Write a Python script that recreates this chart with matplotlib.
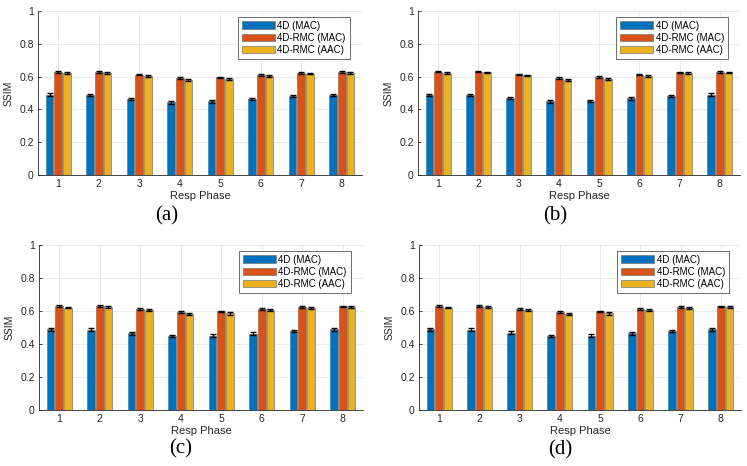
import matplotlib
matplotlib.use('Agg')
import matplotlib.pyplot as plt
import numpy as np

plt.rcParams['font.family'] = ['Liberation Sans', 'DejaVu Sans']

phases = [1, 2, 3, 4, 5, 6, 7, 8]
series_names = ['4D (MAC)', '4D-RMC (MAC)', '4D-RMC (AAC)']
colors = ['#0072BD', '#D95319', '#EDB120']
panel_labels = ['(a)', '(b)', '(c)', '(d)']

# SSIM means per panel: [4D (MAC), 4D-RMC (MAC), 4D-RMC (AAC)]
ssim_a = [[0.490, 0.487, 0.465, 0.443, 0.450, 0.463, 0.483, 0.488],
          [0.628, 0.628, 0.612, 0.590, 0.595, 0.610, 0.622, 0.627],
          [0.620, 0.622, 0.605, 0.580, 0.585, 0.603, 0.618, 0.622]]
ssim_b = [[0.490, 0.487, 0.470, 0.450, 0.452, 0.468, 0.481, 0.490],
          [0.630, 0.630, 0.613, 0.593, 0.597, 0.612, 0.625, 0.629],
          [0.622, 0.625, 0.607, 0.582, 0.587, 0.605, 0.621, 0.624]]
ssim_c = [[0.488, 0.487, 0.466, 0.446, 0.450, 0.463, 0.480, 0.488],
          [0.630, 0.630, 0.613, 0.592, 0.597, 0.612, 0.624, 0.628],
          [0.621, 0.624, 0.606, 0.580, 0.585, 0.605, 0.619, 0.623]]
ssim_d = [[0.488, 0.487, 0.467, 0.446, 0.451, 0.464, 0.481, 0.488],
          [0.630, 0.630, 0.613, 0.592, 0.597, 0.612, 0.624, 0.628],
          [0.621, 0.624, 0.606, 0.580, 0.585, 0.605, 0.619, 0.623]]

# error bar half-widths
err_a = [[0.010, 0.007, 0.007, 0.009, 0.008, 0.007, 0.007, 0.006],
         [0.005, 0.005, 0.005, 0.006, 0.005, 0.005, 0.005, 0.005],
         [0.005, 0.005, 0.005, 0.006, 0.006, 0.005, 0.005, 0.005]]
err_b = [[0.006, 0.007, 0.008, 0.008, 0.008, 0.008, 0.008, 0.010],
         [0.005, 0.005, 0.005, 0.005, 0.005, 0.005, 0.005, 0.005],
         [0.005, 0.005, 0.005, 0.006, 0.005, 0.005, 0.005, 0.005]]
err_c = [[0.007, 0.008, 0.009, 0.006, 0.010, 0.008, 0.006, 0.007],
         [0.005, 0.005, 0.005, 0.005, 0.006, 0.005, 0.005, 0.005],
         [0.005, 0.005, 0.005, 0.005, 0.007, 0.005, 0.005, 0.005]]
err_d = [[0.007, 0.008, 0.009, 0.006, 0.011, 0.008, 0.006, 0.007],
         [0.005, 0.005, 0.005, 0.005, 0.006, 0.005, 0.005, 0.005],
         [0.005, 0.005, 0.005, 0.005, 0.007, 0.005, 0.005, 0.005]]

panels = [(ssim_a, err_a), (ssim_b, err_b), (ssim_c, err_c), (ssim_d, err_d)]

W, H = 747, 466
fig = plt.figure(figsize=(W / 100, H / 100), dpi=100)

# axes boxes in pixels: left, top, right, bottom
boxes = [(38, 11, 362, 175), (418, 11, 740, 175),
         (39, 245, 363, 410), (419, 245, 741, 410)]
label_pos = [(167, 216), (555, 216), (181, 449), (560, 450)]

bar_w = 0.19
offsets = [-0.215, 0.0, 0.215]
x = np.array(phases)

for k, (vals, errs) in enumerate(panels):
    l, t, r, b = boxes[k]
    ax = fig.add_axes([l / W, 1 - b / H, (r - l) / W, (b - t) / H])
    for i in range(3):
        ax.bar(x + offsets[i], vals[i], bar_w, color=colors[i],
               edgecolor='#777777', linewidth=0.5, label=series_names[i], zorder=3)
        ax.errorbar(x + offsets[i], vals[i], yerr=errs[i], fmt='none',
                    ecolor='black', elinewidth=1.0, capsize=2.2, capthick=1.0, zorder=4)
    ax.set_xlim(0.5, 8.5)
    ax.set_ylim(0, 1)
    ax.set_xticks(phases)
    ax.set_yticks([0, 0.2, 0.4, 0.6, 0.8, 1])
    ax.set_yticklabels(['0', '0.2', '0.4', '0.6', '0.8', '1'])
    ax.grid(True, color='#e6e6e6', linewidth=0.6, zorder=0)
    for s in ['top', 'right']:
        ax.spines[s].set_visible(False)
    for s in ['left', 'bottom']:
        ax.spines[s].set_color('#262626')
        ax.spines[s].set_linewidth(0.6)
    ax.tick_params(direction='in', length=2.5, width=0.6, labelsize=7.5,
                   colors='#262626', pad=3)
    ax.set_xlabel('Resp Phase', fontsize=8, color='#262626', labelpad=1)
    ax.set_ylabel('SSIM', fontsize=7.5, color='#262626', labelpad=4)
    leg = ax.legend(loc='upper right', bbox_to_anchor=(0.962, 0.965), fontsize=7,
                    handlelength=3.4, handleheight=0.85, handletextpad=0.25,
                    borderpad=0.4, labelspacing=0.22, borderaxespad=0.0,
                    fancybox=False, framealpha=1, edgecolor='#555555')
    leg.get_frame().set_linewidth(0.6)
    lx, ly = label_pos[k]
    fig.text(lx / W, 1 - ly / H, panel_labels[k], ha='center', va='center',
             fontsize=15, family=['Liberation Serif', 'DejaVu Serif'])

fig.savefig('out.png', dpi=100)
